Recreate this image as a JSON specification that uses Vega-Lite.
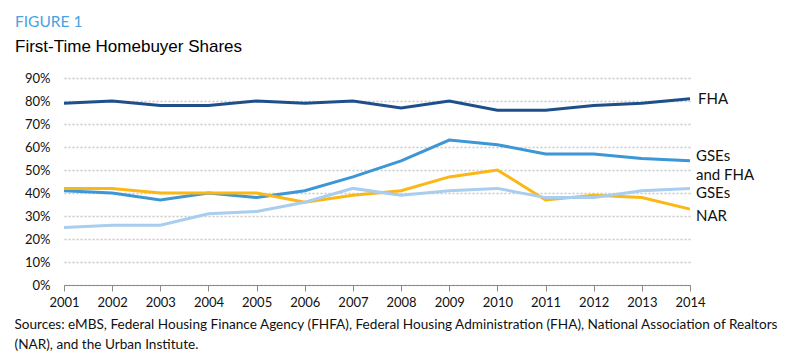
{
  "$schema": "https://vega.github.io/schema/vega-lite/v6.json",
  "width": 626,
  "height": 207,
  "autosize": {"type": "none"},
  "padding": {"left": 64, "top": 78, "right": 96, "bottom": 78},
  "background": "white",
  "config": {"view": {"stroke": null}, "font": "Lato"},
  "title": {
    "text": "FIGURE 1",
    "subtitle": "First-Time Homebuyer Shares",
    "anchor": "start",
    "frame": "group",
    "dx": -49,
    "offset": 17,
    "font": "Lato",
    "fontSize": 15.5,
    "fontWeight": "normal",
    "color": "#4aa3df",
    "subtitleFont": "Liberation Sans",
    "subtitleFontSize": 17,
    "subtitleColor": "#000000",
    "subtitlePadding": 9
  },
  "data": {
    "values": [
      {"year": 2001, "series": "FHA", "share": 0.79},
      {"year": 2002, "series": "FHA", "share": 0.80},
      {"year": 2003, "series": "FHA", "share": 0.78},
      {"year": 2004, "series": "FHA", "share": 0.78},
      {"year": 2005, "series": "FHA", "share": 0.80},
      {"year": 2006, "series": "FHA", "share": 0.79},
      {"year": 2007, "series": "FHA", "share": 0.80},
      {"year": 2008, "series": "FHA", "share": 0.77},
      {"year": 2009, "series": "FHA", "share": 0.80},
      {"year": 2010, "series": "FHA", "share": 0.76},
      {"year": 2011, "series": "FHA", "share": 0.76},
      {"year": 2012, "series": "FHA", "share": 0.78},
      {"year": 2013, "series": "FHA", "share": 0.79},
      {"year": 2014, "series": "FHA", "share": 0.81},
      {"year": 2001, "series": "GSEs and FHA", "share": 0.41},
      {"year": 2002, "series": "GSEs and FHA", "share": 0.40},
      {"year": 2003, "series": "GSEs and FHA", "share": 0.37},
      {"year": 2004, "series": "GSEs and FHA", "share": 0.40},
      {"year": 2005, "series": "GSEs and FHA", "share": 0.38},
      {"year": 2006, "series": "GSEs and FHA", "share": 0.41},
      {"year": 2007, "series": "GSEs and FHA", "share": 0.47},
      {"year": 2008, "series": "GSEs and FHA", "share": 0.54},
      {"year": 2009, "series": "GSEs and FHA", "share": 0.63},
      {"year": 2010, "series": "GSEs and FHA", "share": 0.61},
      {"year": 2011, "series": "GSEs and FHA", "share": 0.57},
      {"year": 2012, "series": "GSEs and FHA", "share": 0.57},
      {"year": 2013, "series": "GSEs and FHA", "share": 0.55},
      {"year": 2014, "series": "GSEs and FHA", "share": 0.54},
      {"year": 2001, "series": "NAR", "share": 0.42},
      {"year": 2002, "series": "NAR", "share": 0.42},
      {"year": 2003, "series": "NAR", "share": 0.40},
      {"year": 2004, "series": "NAR", "share": 0.40},
      {"year": 2005, "series": "NAR", "share": 0.40},
      {"year": 2006, "series": "NAR", "share": 0.36},
      {"year": 2007, "series": "NAR", "share": 0.39},
      {"year": 2008, "series": "NAR", "share": 0.41},
      {"year": 2009, "series": "NAR", "share": 0.47},
      {"year": 2010, "series": "NAR", "share": 0.50},
      {"year": 2011, "series": "NAR", "share": 0.37},
      {"year": 2012, "series": "NAR", "share": 0.39},
      {"year": 2013, "series": "NAR", "share": 0.38},
      {"year": 2014, "series": "NAR", "share": 0.33},
      {"year": 2001, "series": "GSEs", "share": 0.25},
      {"year": 2002, "series": "GSEs", "share": 0.26},
      {"year": 2003, "series": "GSEs", "share": 0.26},
      {"year": 2004, "series": "GSEs", "share": 0.31},
      {"year": 2005, "series": "GSEs", "share": 0.32},
      {"year": 2006, "series": "GSEs", "share": 0.36},
      {"year": 2007, "series": "GSEs", "share": 0.42},
      {"year": 2008, "series": "GSEs", "share": 0.39},
      {"year": 2009, "series": "GSEs", "share": 0.41},
      {"year": 2010, "series": "GSEs", "share": 0.42},
      {"year": 2011, "series": "GSEs", "share": 0.38},
      {"year": 2012, "series": "GSEs", "share": 0.38},
      {"year": 2013, "series": "GSEs", "share": 0.41},
      {"year": 2014, "series": "GSEs", "share": 0.42}
    ]
  },
  "encoding": {
    "x": {
      "field": "year",
      "type": "quantitative",
      "scale": {"domain": [2001, 2014], "nice": false, "zero": false},
      "axis": {
        "values": [2001, 2002, 2003, 2004, 2005, 2006, 2007, 2008, 2009, 2010, 2011, 2012, 2013, 2014],
        "format": "d",
        "grid": false,
        "labelFlush": false,
        "labelBound": false,
        "labelOverlap": false,
        "domainColor": "#8c8c8c",
        "tickColor": "#8c8c8c",
        "tickSize": 6,
        "labelFont": "Lato",
        "labelFontSize": 13,
        "labelColor": "#111111",
        "labelPadding": 5,
        "title": ["Sources: eMBS, Federal Housing Finance Agency (FHFA), Federal Housing Administration (FHA), National Association of Realtors", "(NAR), and the Urban Institute."],
        "titleFont": "Lato",
        "titleFontSize": 13.6,
        "titleFontWeight": "normal",
        "titleColor": "#111111",
        "titleAnchor": "start",
        "titleAlign": "left",
        "titleX": -50,
        "titleY": 32,
        "titleLineHeight": 20,
        "titleBaseline": "top"
      }
    },
    "y": {
      "field": "share",
      "type": "quantitative",
      "scale": {"domain": [0, 0.9], "nice": false},
      "axis": {
        "values": [0, 0.1, 0.2, 0.3, 0.4, 0.5, 0.6, 0.7, 0.8, 0.9],
        "format": ".0%",
        "domain": false,
        "ticks": false,
        "labelPadding": 14,
        "labelFont": "Lato",
        "labelFontSize": 13,
        "labelColor": "#111111",
        "gridColor": "#c8c8c8",
        "gridDash": [2, 2],
        "gridWidth": 1.5,
        "title": null
      }
    },
    "color": {
      "field": "series",
      "type": "nominal",
      "scale": {
        "domain": ["FHA", "GSEs and FHA", "NAR", "GSEs"],
        "range": ["#1f4f8a", "#3d96d6", "#fbb713", "#a9cdee"]
      },
      "legend": null
    }
  },
  "layer": [
    {
      "mark": {"type": "line", "strokeWidth": 3},
      "encoding": {"order": {"field": "year"}}
    },
    {
      "transform": [{"filter": "datum.year === 2014 && datum.series === 'FHA'"}],
      "mark": {"type": "text", "align": "left", "baseline": "middle", "dx": 8, "dy": 0, "fontSize": 15, "font": "Lato", "color": "#111111"},
      "encoding": {"text": {"value": "FHA"}, "color": {"value": "#111111"}}
    },
    {
      "transform": [{"filter": "datum.year === 2014 && datum.series === 'GSEs and FHA'"}],
      "mark": {"type": "text", "align": "left", "baseline": "top", "dx": 6, "dy": -12, "fontSize": 15, "font": "Lato", "lineHeight": 19, "color": "#111111"},
      "encoding": {"text": {"value": ["GSEs", "and FHA"]}, "color": {"value": "#111111"}}
    },
    {
      "transform": [{"filter": "datum.year === 2014 && datum.series === 'GSEs'"}],
      "mark": {"type": "text", "align": "left", "baseline": "middle", "dx": 6, "dy": 5, "fontSize": 15, "font": "Lato", "color": "#111111"},
      "encoding": {"text": {"value": "GSEs"}, "color": {"value": "#111111"}}
    },
    {
      "transform": [{"filter": "datum.year === 2014 && datum.series === 'NAR'"}],
      "mark": {"type": "text", "align": "left", "baseline": "middle", "dx": 6, "dy": 7, "fontSize": 15, "font": "Lato", "color": "#111111"},
      "encoding": {"text": {"value": "NAR"}, "color": {"value": "#111111"}}
    }
  ]
}
